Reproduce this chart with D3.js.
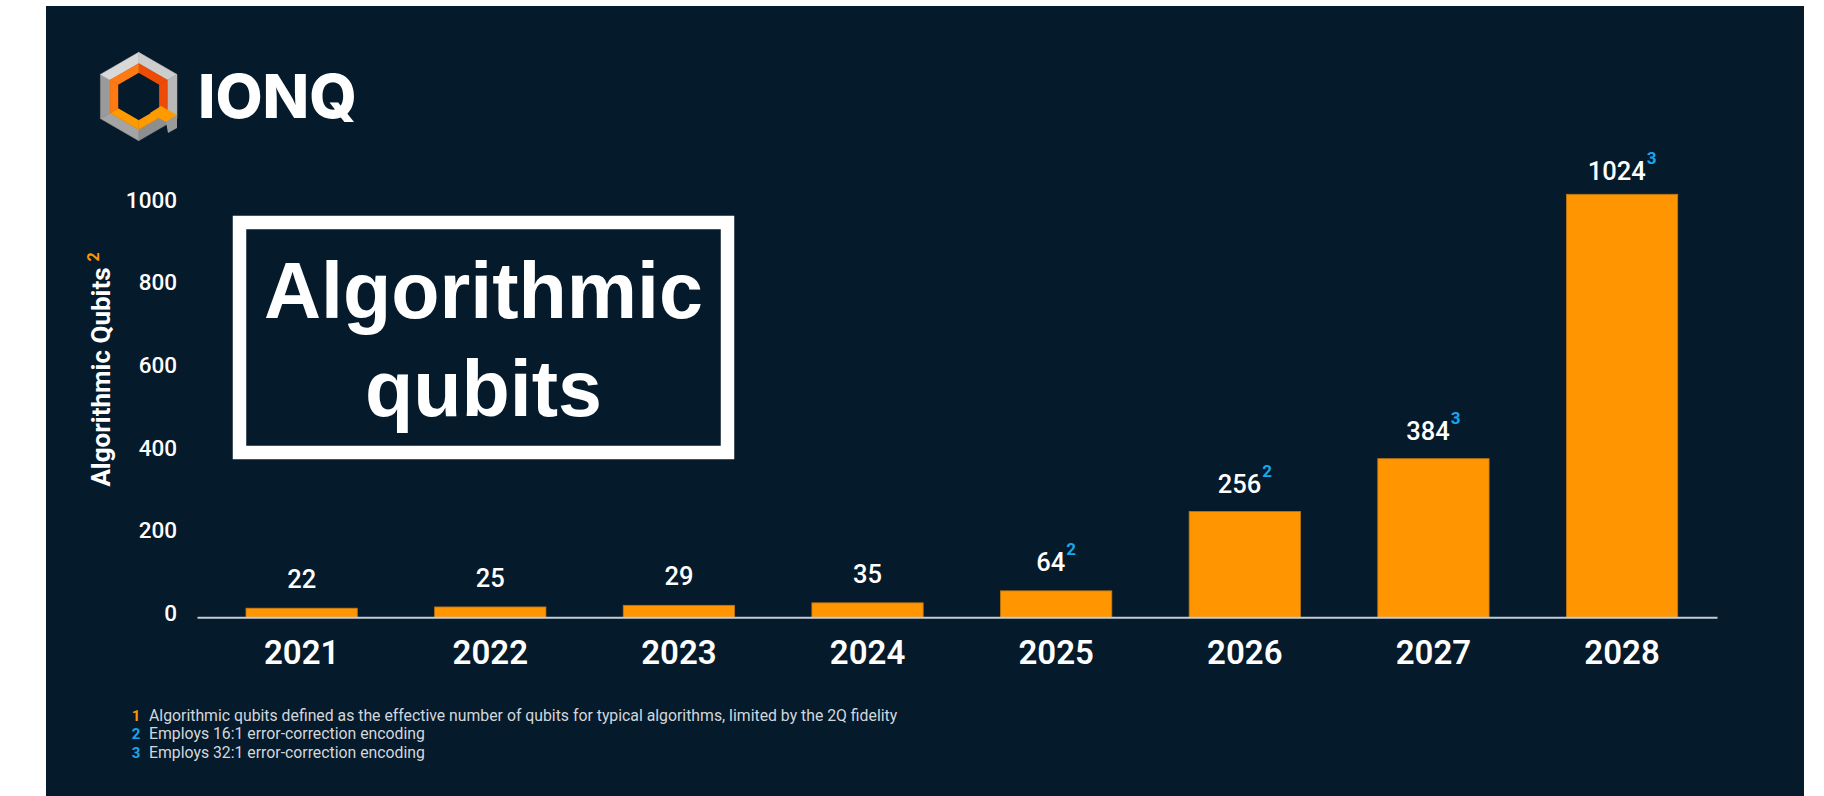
<!DOCTYPE html>
<html>
<head>
<meta charset="utf-8">
<script src="https://cdn.jsdelivr.net/npm/d3@7/dist/d3.min.js"></script>
<style>
  html, body { margin: 0; padding: 0; background: #ffffff; }
  svg { display: block; }
</style>
</head>
<body>
<svg id="chart" width="1824" height="796"></svg>
<script>
// ---- data ----
const years = ["2021", "2022", "2023", "2024", "2025", "2026", "2027", "2028"];
const qubits = [22, 25, 29, 35, 64, 256, 384, 1024];
const noteMarks = ["", "", "", "", "2", "2", "3", "3"];
const yTicks = [0, 200, 400, 600, 800, 1000];
const footnoteNums = ["1", "2", "3"];
const footnoteTexts = [
  "Algorithmic qubits defined as the effective number of qubits for typical algorithms, limited by the 2Q fidelity",
  "Employs 16:1 error-correction encoding",
  "Employs 32:1 error-correction encoding"
];
const titleLines = ["Algorithmic", "qubits"];

// ---- palette ----
const BG = "#051a2b";
const ORANGE = "#ff9500";
const BLUE = "#1aa6ec";
const NUM_FONT = "Roboto, 'Noto Sans', sans-serif";

const svg = d3.select("#chart");

svg.append("rect")
  .attr("x", 46).attr("y", 6).attr("width", 1758).attr("height", 790)
  .attr("fill", BG);

// ---- logo ----
const logo = svg.append("g");
function hexPts(cx, cy, r) {
  const a = r * Math.sqrt(3) / 2;
  return [[cx, cy - r], [cx + a, cy - r / 2], [cx + a, cy + r / 2],
          [cx, cy + r], [cx - a, cy + r / 2], [cx - a, cy - r / 2]];
}
function ring(outer, inner, colors) {
  for (let i = 0; i < 6; i++) {
    const j = (i + 1) % 6;
    logo.append("polygon")
      .attr("points", [outer[i], outer[j], inner[j], inner[i]].map(p => p.join(",")).join(" "))
      .attr("fill", colors[i]).attr("stroke", colors[i]).attr("stroke-width", 0.5);
  }
}
const lc = [138.7, 96.5];
const hOuter = hexPts(lc[0], lc[1], 44.2);
const hMid = hexPts(lc[0], lc[1], 33);
const hHole = hexPts(lc[0], lc[1], 23.5);
// sides: top→UR, UR→LR, LR→bottom, bottom→LL, LL→UL, UL→top
ring(hOuter, hMid, ["#cdcdcd", "#b8b8b8", "#8e8e8e", "#a4a4a4", "#9a9a9a", "#d8d8d8"]);
ring(hMid, hHole, ["#ee4b06", "#ee4b06", "#ff9a00", "#ff9a00", "#ff7a12", "#ff7a12"]);
logo.append("polygon").attr("points", hHole.map(p => p.join(",")).join(" ")).attr("fill", BG);
// tail of the Q
logo.append("polygon").attr("points", "150,113 161,106 177,115 166,122").attr("fill", "#ff9a00");
logo.append("polygon").attr("points", "166,122 177,115 177,128 168,133").attr("fill", "#9a9a9a");

svg.append("text")
  .attr("x", 198).attr("y", 117.7)
  .attr("font-family", "Inter, 'Noto Sans', sans-serif")
  .attr("font-weight", 800).attr("font-size", 61)
  .attr("fill", "#ffffff")
  .text("IONQ");

// ---- scales ----
const x = d3.scaleBand()
  .domain(years)
  .range([197, 1717])
  .paddingInner(0.41)
  .paddingOuter(0.234)
  .align(0.555);

const y = d3.scaleLinear()
  .domain([0, 1000])
  .range([617.3, 204.2]);

// ---- y axis (labels only) ----
const yAxis = svg.append("g")
  .attr("transform", "translate(197,0)")
  .call(d3.axisLeft(y).tickValues(yTicks).tickFormat(d3.format("d")).tickSize(0).tickPadding(20));
yAxis.select(".domain").remove();
yAxis.selectAll("text")
  .attr("font-family", NUM_FONT)
  .attr("font-weight", 500)
  .attr("font-size", 22.5)
  .attr("fill", "#ffffff")
  .attr("dy", "0.14em");

// axis title, with its footnote mark placed after the measured text end
const yTitleG = svg.append("g").attr("transform", "translate(110,377) rotate(-90)");
const yTitle = yTitleG.append("text")
  .attr("text-anchor", "middle")
  .attr("font-family", NUM_FONT)
  .attr("font-weight", 700)
  .attr("font-size", 26)
  .attr("fill", "#ffffff")
  .text("Algorithmic Qubits");
const titleLen = yTitle.node().getComputedTextLength();
yTitleG.append("text")
  .attr("x", titleLen / 2 + 6)
  .attr("y", -11)
  .attr("font-family", NUM_FONT)
  .attr("font-weight", 700)
  .attr("font-size", 16)
  .attr("fill", ORANGE)
  .text("2");

// ---- bars ----
svg.append("g")
  .selectAll("rect")
  .data(qubits)
  .join("rect")
  .attr("x", (d, i) => x(years[i]))
  .attr("y", d => y(d))
  .attr("width", x.bandwidth())
  .attr("height", d => y(0) - y(d))
  .attr("fill", ORANGE)
  .attr("stroke", "#c27712")
  .attr("stroke-width", 0.8);

// ---- x axis ----
const xAxis = svg.append("g")
  .attr("transform", `translate(0,${y(0)})`)
  .call(d3.axisBottom(x).tickSize(0).tickSizeOuter(0).tickPadding(23));
xAxis.select(".domain")
  .attr("stroke", "#c3ccd4")
  .attr("stroke-width", 2);
xAxis.selectAll("text")
  .attr("font-family", NUM_FONT)
  .attr("font-weight", 600)
  .attr("font-size", 33)
  .attr("fill", "#ffffff");

// ---- value labels ----
const labels = svg.append("g")
  .selectAll("text")
  .data(qubits)
  .join("text")
  .attr("x", (d, i) => x(years[i]) + x.bandwidth() / 2)
  .attr("y", d => y(d) - 20.5 + (y(0) - y(d)) * 0.014)
  .attr("text-anchor", "middle")
  .attr("font-family", NUM_FONT)
  .attr("font-weight", 500)
  .attr("font-size", 25.5)
  .attr("fill", "#ffffff");
labels.append("tspan").text(d => d);
labels.filter((d, i) => noteMarks[i] !== "")
  .append("tspan")
  .attr("dx", 1).attr("dy", -16)
  .attr("font-size", 17)
  .attr("font-weight", 700)
  .attr("fill", BLUE)
  .text(d => noteMarks[qubits.indexOf(d)]);

// ---- title box ----
svg.append("rect")
  .attr("x", 239.5).attr("y", 222.5)
  .attr("width", 488).attr("height", 230)
  .attr("fill", BG)
  .attr("stroke", "#ffffff")
  .attr("stroke-width", 13.5);
svg.append("g")
  .selectAll("text")
  .data(titleLines)
  .join("text")
  .attr("x", 483.5)
  .attr("y", (d, i) => 318 + i * 98)
  .attr("text-anchor", "middle")
  .attr("font-family", "'Liberation Sans', Arial, sans-serif")
  .attr("font-weight", 700)
  .attr("font-size", 79)
  .attr("fill", "#ffffff")
  .text(d => d);

// ---- footnotes ----
const fn = svg.append("g")
  .selectAll("g")
  .data(footnoteTexts)
  .join("g")
  .attr("transform", (d, i) => `translate(0,${721 + i * 18.4})`);
fn.append("text")
  .attr("x", 136).attr("text-anchor", "middle")
  .attr("font-family", NUM_FONT)
  .attr("font-weight", 700)
  .attr("font-size", 15)
  .attr("fill", (d, i) => i === 0 ? ORANGE : BLUE)
  .text((d, i) => footnoteNums[i]);
fn.append("text")
  .attr("x", 149)
  .attr("font-family", NUM_FONT)
  .attr("font-weight", 400)
  .attr("font-size", 15.8)
  .attr("fill", "#d3d7dc")
  .text(d => d);
</script>
</body>
</html>
